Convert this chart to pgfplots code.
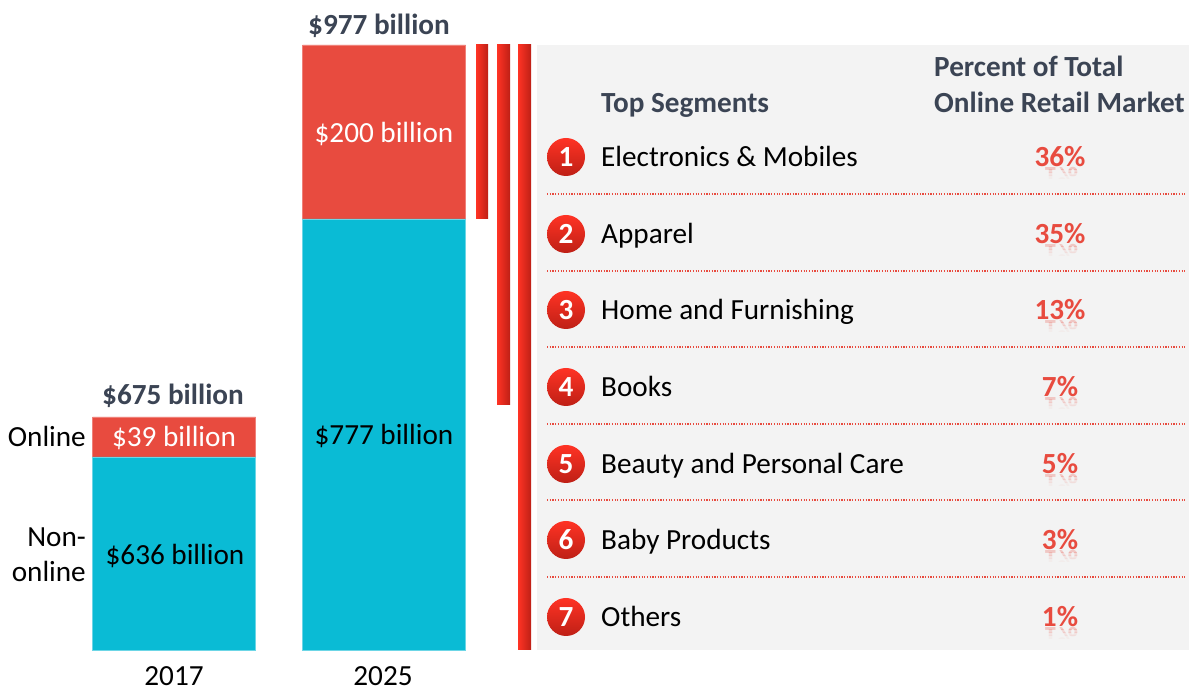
\documentclass[border=0pt]{standalone}
\usepackage{fontspec}
\setmainfont[Ligatures=NoCommon]{Carlito}
\usepackage{pgfplots}
\pgfplotsset{compat=1.18}
\definecolor{teal}{HTML}{0ABBD5}
\definecolor{redb}{HTML}{E84B3F}
\definecolor{slate}{HTML}{3B4454}
\definecolor{panel}{HTML}{F3F3F3}
\definecolor{hi}{HTML}{FF3324}
\definecolor{lo}{HTML}{BE2016}
\newcommand{\fs}{\fontsize{29.2}{33}\selectfont}
\newcommand{\T}[4][black]{\node[anchor=base,inner sep=0pt,text=#1] at (axis cs:#2,#3) {\fs #4};}
\newcommand{\TL}[4][black]{\node[anchor=base west,inner sep=0pt,text=#1] at (axis cs:#2,#3) {\fs #4};}
\newcommand{\TR}[3]{\node[anchor=base east,inner sep=0pt] at (axis cs:#1,#2) {\fs #3};}
\newcommand{\Band}[4]{%
  \begin{scope}
    \clip (axis cs:1000,#1-#3) rectangle (axis cs:1120,#1-#4);
    \node[anchor=base,inner sep=0pt,text=redb,opacity=#2] at (axis cs:1060,#1-1) {\fs\bfseries\scalebox{1}[-1]{\PctText}};
  \end{scope}}
\newcommand{\Pct}[2]{%
  \def\PctText{#2}%
  \Band{#1}{.26}{3}{0}\Band{#1}{.17}{6}{3}\Band{#1}{.09}{9}{6}\Band{#1}{.04}{12}{9}%
  \node[anchor=base,inner sep=0pt,text=redb] at (axis cs:1060,#1) {\fs\bfseries #2};}
\pgfplotsset{sep/.style={redb,dash pattern=on 1.2pt off 1.5pt,line width=1.1pt,forget plot}}
\begin{document}
\begin{tikzpicture}
\useasboundingbox (0,0) rectangle (1189pt,688pt);
\begin{axis}[
  at={(0,0)},anchor=south west,
  scale only axis,width=1189pt,height=688pt,
  xmin=0,xmax=1189,ymin=-38,ymax=650,
  hide axis,clip=false,
  ybar stacked,bar width=163,
]
\fill[panel] (axis cs:536.5,0) rectangle (axis cs:1189,605);
% stacked bars (drawn heights)
\addplot[fill=teal,draw=teal!60!white,line width=.5pt] coordinates {(174,193) (384,431)};
\addplot[fill=redb,draw=redb!70!white,line width=.5pt] coordinates {(174,40) (384,174)};
\end{axis}
\begin{axis}[
  at={(0,0)},anchor=south west,
  scale only axis,width=1189pt,height=688pt,
  xmin=0,xmax=1189,ymin=-38,ymax=650,
  hide axis,clip=false,
]
% projection strips
\addplot[left color=hi,right color=lo,draw=none] coordinates {(476,431)(476,605)(488,605)(488,431)} -- cycle;
\addplot[left color=hi,right color=lo,draw=none] coordinates {(497,245)(497,605)(510,605)(510,245)} -- cycle;
\addplot[left color=hi,right color=lo,draw=none] coordinates {(518,0)(518,605)(531,605)(531,0)} -- cycle;
% row separators
\addplot[sep] coordinates {(547,456)(1186,456)};
\addplot[sep] coordinates {(547,379)(1186,379)};
\addplot[sep] coordinates {(547,303)(1186,303)};
\addplot[sep] coordinates {(547,226)(1186,226)};
\addplot[sep] coordinates {(547,150)(1186,150)};
\addplot[sep] coordinates {(547,73)(1186,73)};
% rank discs
\addplot[only marks,mark size=0pt,point meta=explicit symbolic,
  nodes near coords,
  every node near coord/.style={anchor=center,circle,inner sep=0pt,minimum size=38pt,
    top color=hi,bottom color=lo,text=white,font=\fs\bfseries}]
  coordinates {(566,493)[1] (566,416)[2] (566,340)[3] (566,263)[4] (566,186)[5] (566,110)[6] (566,33)[7]};
% bar text
\T[slate]{379}{615}{\bfseries \$977 billion}
\T[white]{384}{507}{\$200 billion}
\T{384}{205}{\$777 billion}
\T[slate]{173}{245}{\bfseries \$675 billion}
\T[white]{174}{203}{\$39 billion}
\T{175}{85}{\$636 billion}
\T{174}{-36}{2017}
\T{383}{-36}{2025}
\TR{86}{203}{Online}
\TR{86}{103}{Non-}
\TR{86}{68}{online}
% table text
\TL[slate]{601}{537}{\bfseries Top Segments}
\TL[slate]{934}{573}{\bfseries Percent of Total}
\TL[slate]{934}{537}{\bfseries Online Retail Market}
\TL{601}{483}{Electronics \& Mobiles}
\TL{601}{406}{Apparel}
\TL{601}{330}{Home and Furnishing}
\TL{601}{253}{Books}
\TL{601}{176}{Beauty and Personal Care}
\TL{601}{100}{Baby Products}
\TL{601}{23}{Others}
\Pct{483}{36\%}
\Pct{406}{35\%}
\Pct{330}{13\%}
\Pct{253}{7\%}
\Pct{176}{5\%}
\Pct{100}{3\%}
\Pct{23}{1\%}
\end{axis}
\end{tikzpicture}
\end{document}
